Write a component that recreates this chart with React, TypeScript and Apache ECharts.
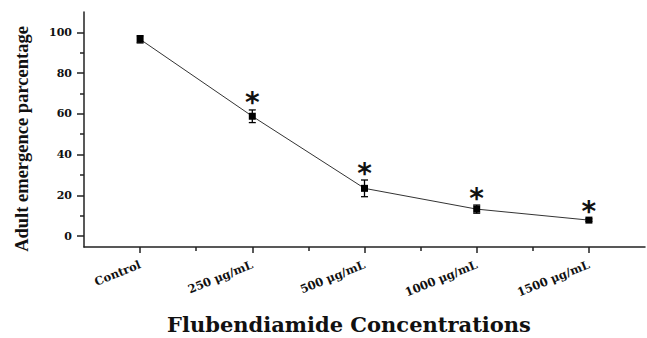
import React, { useEffect, useRef } from "react";
import * as echarts from "echarts";

const categories = ["Control", "250 μg/mL", "500 μg/mL", "1000 μg/mL", "1500 μg/mL"];
const means = [96.6, 58.8, 23.4, 13.2, 7.8];
const errors = [1.8, 3.1, 4.1, 2.0, 0.6];
const significant = [false, true, true, true, true];
const yMajorTicks = [0, 20, 40, 60, 80, 100];
const yMinorTicks = [10, 30, 50, 70, 90];
const xMajorTicks = [1, 2, 3, 4, 5];
const xMinorTicks = [1.5, 2.5, 3.5, 4.5];
const yTitle = "Adult emergence parcentage";
const xTitle = "Flubendiamide Concentrations";

export default function App() {
  const ref = useRef<HTMLDivElement>(null);
  useEffect(() => {
    if (!ref.current) return;
    const chart = echarts.init(ref.current, null, { renderer: "svg" });
    const pts = means.map((m, i) => [i + 1, m]);
    const errData = means.map((m, i) => [i + 1, m, errors[i], significant[i] ? 1 : 0]);
    const axisColor = "#222";
    const serifBold = { fontFamily: "DejaVu Serif", fontWeight: "bold" as const, color: "#111" };
    chart.setOption({
      animation: false,
      backgroundColor: "#fff",
      grid: { left: 84, right: 2, top: 12, bottom: 91 },
      graphic: [
        {
          type: "text",
          x: 22,
          y: 139,
          rotation: Math.PI / 2,
          style: {
            text: yTitle,
            fontSize: 18.5,
            fontFamily: "Liberation Serif",
            fontWeight: "bold",
            fill: "#111",
            align: "center",
            verticalAlign: "middle",
          },
        },
        {
          type: "text",
          x: 349,
          y: 324,
          style: {
            text: xTitle,
            fontSize: 21,
            fontFamily: "DejaVu Serif",
            fontWeight: "bold",
            fill: "#111",
            align: "center",
            verticalAlign: "middle",
          },
        },
      ],
      xAxis: [
        {
          type: "value",
          min: 0.5,
          max: 5.5,
          position: "bottom",
          axisLine: { onZero: false, lineStyle: { color: axisColor, width: 1.5 } },
          axisTick: { show: true, customValues: xMajorTicks, length: 6, lineStyle: { color: axisColor, width: 1.5 } },
          axisLabel: {
            customValues: xMajorTicks,
            formatter: (v: number) => categories[Math.round(v) - 1] ?? "",
            rotate: 22,
            margin: 17,
            fontSize: 11.5,
            ...serifBold,
          },
          splitLine: { show: false },
        },
        {
          type: "value",
          min: 0.5,
          max: 5.5,
          position: "bottom",
          axisLine: { show: false, onZero: false },
          axisTick: { show: true, customValues: xMinorTicks, length: 4, lineStyle: { color: axisColor, width: 1.5 } },
          axisLabel: { show: false },
          splitLine: { show: false },
        },
      ],
      yAxis: [
        {
          type: "value",
          min: -5.4,
          max: 110,
          position: "left",
          axisLine: { show: true, onZero: false, lineStyle: { color: axisColor, width: 1.5 } },
          axisTick: { show: true, customValues: yMajorTicks, length: 7, lineStyle: { color: axisColor, width: 1.5 } },
          axisLabel: { customValues: yMajorTicks, margin: 12, fontSize: 11, ...serifBold },
          splitLine: { show: false },
        },
        {
          type: "value",
          min: -5.4,
          max: 110,
          position: "left",
          offset: 0,
          axisLine: { show: false, onZero: false },
          axisTick: { show: true, customValues: yMinorTicks, length: 4, lineStyle: { color: axisColor, width: 1.5 } },
          axisLabel: { show: false },
          splitLine: { show: false },
        },
      ],
      series: [
        {
          type: "line",
          data: pts,
          symbol: "rect",
          symbolSize: 7,
          itemStyle: { color: "#000" },
          lineStyle: { color: "#333", width: 1 },
          z: 3,
        },
        {
          type: "custom",
          data: errData,
          z: 4,
          renderItem: (params: any, api: any) => {
            const x = api.value(0);
            const m = api.value(1);
            const e = api.value(2);
            const sig = api.value(3);
            const top = api.coord([x, m + e]);
            const bot = api.coord([x, m - e]);
            const cx = top[0];
            const hw = 3.5;
            const style = { stroke: "#000", lineWidth: 1.3 };
            const children: any[] = [
              { type: "line", shape: { x1: cx, y1: top[1], x2: cx, y2: bot[1] }, style },
              { type: "line", shape: { x1: cx - hw, y1: top[1], x2: cx + hw, y2: top[1] }, style },
              { type: "line", shape: { x1: cx - hw, y1: bot[1], x2: cx + hw, y2: bot[1] }, style },
            ];
            if (sig) {
              children.push({
                type: "text",
                x: cx,
                y: top[1] - 7,
                style: {
                  text: "*",
                  fontSize: 28,
                  fontFamily: "DejaVu Sans",
                  fontWeight: "bold",
                  fill: "#111",
                  align: "center",
                  verticalAlign: "middle",
                },
              });
            }
            return { type: "group", children };
          },
        },
      ],
    });
    return () => chart.dispose();
  }, []);
  return <div ref={ref} style={{ position: "fixed", left: 0, top: 0, width: 647, height: 338 }} />;
}
